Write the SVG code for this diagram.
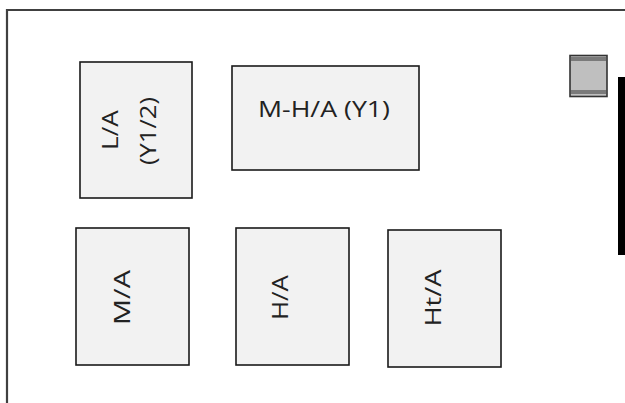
<svg xmlns="http://www.w3.org/2000/svg" width="625" height="403" viewBox="0 0 625 403">
<style>
.box{fill:#f2f2f2;stroke:#1a1a1a;stroke-width:1.6}
.lbl{font-family:"Open Sans","Noto Sans",sans-serif;font-size:22px;fill:#222;text-anchor:middle}
.wall{fill:none;stroke:#404040;stroke-width:2.2}
</style>
<rect width="625" height="403" fill="#fff"/>
<g id="walls">
<polyline class="wall" points="625,10 7,10 7,403"/>
</g>
<g id="la">
<rect class="box" x="80" y="62" width="112" height="136"/>
<text class="lbl" transform="translate(118,130) rotate(-90)" textLength="40" lengthAdjust="spacingAndGlyphs">L/A</text>
<text class="lbl" transform="translate(156,131) rotate(-90)" textLength="68" lengthAdjust="spacingAndGlyphs">(Y1/2)</text>
</g>
<g id="mha">
<rect class="box" x="232" y="66" width="187" height="104"/>
<text class="lbl" x="324" y="117" textLength="132" lengthAdjust="spacingAndGlyphs">M-H/A (Y1)</text>
</g>
<g id="ma">
<rect class="box" x="76" y="228" width="113" height="137"/>
<text class="lbl" transform="translate(129.5,297.5) rotate(-90)" textLength="55" lengthAdjust="spacingAndGlyphs">M/A</text>
</g>
<g id="ha">
<rect class="box" x="236" y="228" width="113" height="137"/>
<text class="lbl" transform="translate(288,297.5) rotate(-90)" textLength="45" lengthAdjust="spacingAndGlyphs">H/A</text>
</g>
<g id="hta">
<rect class="box" x="388" y="230" width="113" height="137"/>
<text class="lbl" transform="translate(441,298) rotate(-90)" textLength="57" lengthAdjust="spacingAndGlyphs">Ht/A</text>
</g>
<g id="small">
<rect x="570" y="55.5" width="37" height="41" fill="#bfbfbf" stroke="#333" stroke-width="1.6"/>
<rect x="571" y="57" width="35" height="4" fill="#7a7a7a"/>
<rect x="571" y="90" width="35" height="4" fill="#7a7a7a"/>
</g>
<g id="bar">
<rect x="618" y="77" width="7" height="178" fill="#000"/>
</g>
<g id="connectors"></g>
</svg>
